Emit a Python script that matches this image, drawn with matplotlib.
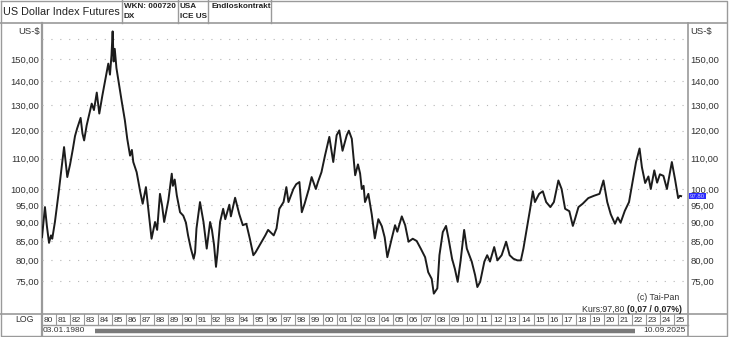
'''
US Dollar Index Futures - long term chart (Tai-Pan style)
'''
import matplotlib
matplotlib.use('Agg')
import matplotlib.pyplot as plt
from matplotlib.ticker import NullLocator

plt.rcParams['font.family'] = ['Liberation Sans', 'DejaVu Sans']

# values (year as decimal, index level)
years = [
    1980.00, 1980.10, 1980.21, 1980.35, 1980.50, 1980.64, 1980.73, 1980.92,
    1981.16, 1981.35, 1981.57, 1981.70, 1981.80, 1982.00, 1982.20, 1982.35,
    1982.50, 1982.75, 1982.88, 1983.00, 1983.18, 1983.35, 1983.54, 1983.70,
    1983.90, 1984.08, 1984.30, 1984.50, 1984.72, 1984.84, 1984.95, 1985.03,
    1985.10, 1985.18, 1985.30, 1985.40, 1985.50, 1985.68, 1985.90, 1986.07,
    1986.27, 1986.40, 1986.50, 1986.74, 1987.00, 1987.17, 1987.40, 1987.57,
    1987.70, 1987.80, 1988.05, 1988.20, 1988.40, 1988.55, 1988.70, 1989.00,
    1989.24, 1989.32, 1989.45, 1989.60, 1989.83, 1990.06, 1990.25, 1990.40,
    1990.60, 1990.80, 1990.90, 1991.00, 1991.25, 1991.50, 1991.73, 1991.97,
    1992.10, 1992.25, 1992.39, 1992.50, 1992.68, 1992.90, 1993.05, 1993.34,
    1993.45, 1993.75, 1994.05, 1994.30, 1994.55, 1994.80, 1995.05, 1995.20,
    1995.50, 1995.90, 1996.10, 1996.50, 1996.70, 1996.90, 1997.20, 1997.40,
    1997.55, 1997.90, 1998.10, 1998.33, 1998.50, 1998.70, 1999.00, 1999.20,
    1999.50, 1999.65, 1999.90, 2000.15, 2000.46, 2000.74, 2000.98, 2001.17,
    2001.40, 2001.70, 2001.85, 2002.06, 2002.30, 2002.50, 2002.65, 2002.77,
    2002.90, 2003.00, 2003.24, 2003.48, 2003.70, 2003.95, 2004.20, 2004.40,
    2004.59, 2004.90, 2005.14, 2005.30, 2005.62, 2005.86, 2006.10, 2006.40,
    2006.68, 2006.97, 2007.28, 2007.50, 2007.75, 2007.90, 2008.15, 2008.30,
    2008.54, 2008.77, 2008.95, 2009.20, 2009.40, 2009.60, 2009.80, 2010.06,
    2010.25, 2010.60, 2010.84, 2011.00, 2011.20, 2011.50, 2011.70, 2011.90,
    2012.20, 2012.43, 2012.73, 2013.05, 2013.30, 2013.57, 2013.85, 2014.10,
    2014.28, 2014.52, 2014.76, 2014.95, 2015.10, 2015.40, 2015.66, 2015.90,
    2016.20, 2016.45, 2016.77, 2017.00, 2017.25, 2017.55, 2017.80, 2017.95,
    2018.20, 2018.50, 2018.90, 2019.30, 2019.70, 2019.98, 2020.25, 2020.50,
    2020.80, 2021.00, 2021.20, 2021.50, 2021.80, 2022.07, 2022.30, 2022.55,
    2022.72, 2022.95, 2023.18, 2023.35, 2023.60, 2023.80, 2024.00, 2024.25,
    2024.50, 2024.85, 2025.08, 2025.30, 2025.42, 2025.51,
]
prices = [
    86.0, 90.0, 94.5, 89.0, 84.5, 86.5, 85.6, 90.2,
    98.0, 105.0, 114.0, 108.0, 103.8, 108.0, 113.4, 118.0,
    120.8, 124.9, 119.0, 116.4, 122.0, 126.0, 130.6, 128.0,
    135.2, 126.6, 134.0, 140.5, 148.0, 143.0, 152.0, 163.7,
    149.0, 155.0, 146.0, 142.0, 138.2, 131.4, 124.0, 117.0,
    111.0, 113.0, 108.8, 105.4, 99.0, 95.5, 100.6, 94.0,
    89.0, 85.6, 90.2, 88.0, 98.5, 95.0, 90.2, 96.6,
    104.9, 101.0, 103.0, 98.0, 93.0, 92.0, 90.0, 86.5,
    83.0, 80.4, 82.0, 88.4, 96.0, 90.2, 83.0, 90.2,
    88.0, 84.0, 78.4, 82.0, 90.2, 94.0, 91.0, 95.2,
    91.8, 97.3, 92.4, 89.3, 89.7, 85.6, 81.3, 82.0,
    83.9, 86.5, 88.0, 86.5, 88.4, 94.0, 96.0, 100.6,
    96.0, 100.0, 101.5, 102.2, 93.0, 95.5, 100.0, 103.8,
    100.0, 102.2, 105.4, 111.0, 117.7, 108.8, 118.3, 120.1,
    112.7, 118.3, 120.0, 117.0, 104.4, 108.0, 105.0, 100.0,
    101.0, 96.0, 98.5, 92.4, 85.7, 91.0, 89.0, 86.0,
    80.8, 85.6, 89.3, 87.5, 91.8, 89.3, 84.8, 85.6,
    85.0, 83.0, 80.8, 77.1, 75.5, 72.1, 73.3, 81.3,
    87.4, 89.1, 85.6, 80.4, 77.9, 74.8, 79.7, 88.0,
    83.0, 79.7, 76.4, 73.6, 74.8, 79.7, 81.3, 79.7,
    83.4, 80.0, 81.3, 84.8, 81.3, 80.4, 80.0, 80.0,
    83.0, 88.4, 94.0, 99.3, 96.0, 98.5, 99.3, 96.0,
    94.5, 96.0, 102.7, 100.0, 94.0, 93.3, 89.1, 91.0,
    94.5, 95.5, 97.2, 97.9, 98.5, 102.7, 96.0, 92.4,
    89.7, 91.5, 90.0, 93.4, 96.0, 102.7, 108.8, 113.5,
    107.0, 101.9, 104.0, 100.0, 106.0, 102.0, 104.7, 104.2,
    100.0, 108.8, 103.0, 97.2, 97.9, 97.8,
]

tick_values = [75, 80, 85, 90, 95, 100, 110, 120, 130, 140, 150]
tick_labels = ['75,00', '80,00', '85,00', '90,00', '95,00', '100,00',
               '110,00', '120,00', '130,00', '140,00', '150,00']
grid_values = tick_values + [160]
year_labels = ['%02d' % (y % 100) for y in range(1980, 2026)]

W, H = 730, 337
frame = '#9a9a9a'
txt = '#333333'

fig = plt.figure(figsize=(W / 100, H / 100), dpi=100)

# background axes in pixel coords for the frame / table parts
bg = fig.add_axes([0, 0, 1, 1])
bg.set_xlim(0, W)
bg.set_ylim(H, 0)
bg.axis('off')

# outer frame and header
bg.plot([0.5, 727, 727, 0.5, 0.5], [0.5, 0.5, 336, 336, 0.5], color=frame, lw=1)
bg.plot([0, 727], [22.5, 22.5], color=frame, lw=1.2)
for xs in [121.7, 177.7, 208.3, 270.7]:
    bg.plot([xs, xs], [0, 22.5], color=frame, lw=1)
bg.text(3, 12, 'US Dollar Index Futures', fontsize=7.8, color='#222', va='center')
bg.text(124, 7, 'WKN: 000720', fontsize=5.9, weight='bold', color='#222', va='center')
bg.text(124, 17, 'DX', fontsize=5.9, weight='bold', color='#222', va='center')
bg.text(180, 7, 'USA', fontsize=5.9, weight='bold', color='#222', va='center')
bg.text(180, 17, 'ICE US', fontsize=5.9, weight='bold', color='#222', va='center')
bg.text(211, 7, 'Endloskontrakt', fontsize=5.9, weight='bold', color='#222', va='center')

# side columns and bottom rows
bg.plot([42, 42], [22.5, 336], color=frame, lw=1.6)
bg.plot([688, 688], [22.5, 336], color=frame, lw=1.2)
bg.plot([0, 727], [314, 314], color=frame, lw=1.2)
bg.plot([42, 688], [325, 325], color=frame, lw=1)
bg.text(25, 320, 'LOG', fontsize=6.3, color=txt, ha='center', va='center')

# year boxes
year_w = (688 - 42) / 46.0
for i, lab in enumerate(year_labels):
    x0 = 42 + i * year_w
    if i > 0:
        bg.plot([x0, x0], [314, 325], color=frame, lw=0.8)
    bg.text(x0 + 1.5, 320, lab, fontsize=6, color=txt, va='center')

# date row with scroll bar
bg.text(43, 331, '03.01.1980', fontsize=6, color=txt, va='center')
bg.plot([95, 635], [330.8, 330.8], color='#7a7a7a', lw=3.2, solid_capstyle='butt')
bg.text(686, 331, '10.09.2025', fontsize=6, color=txt, va='center', ha='right')

# main price chart
ax = fig.add_axes([42 / W, 1 - 314 / H, (688 - 42) / W, (314 - 22.7) / H])
ax.patch.set_alpha(0)
ax.set_yscale('log')
ax.set_xlim(1980.0, 2026.0)
ax.set_ylim(67.65, 168.2)
for s in ax.spines.values():
    s.set_visible(False)

for g in grid_values:
    ax.axhline(g, color='#b5b5b5', lw=0.8, linestyle=(0, (1, 7)), zorder=1)

ax.plot(years, prices, color='#1c1c1c', lw=1.4, zorder=3)

ax.yaxis.set_minor_locator(NullLocator())
ax.set_yticks(tick_values)
ax.set_yticklabels(tick_labels)
ax.set_xticks([])
ax.tick_params(axis='y', length=0, labelsize=6.8, labelcolor=txt,
               labelleft=True, labelright=True, pad=2)

# currency label top left / right
ax.text(-0.004, 0.97, 'US-$', transform=ax.transAxes, fontsize=6.8, color=txt,
        ha='right', va='center')
ax.text(1.004, 0.97, 'US-$', transform=ax.transAxes, fontsize=6.8, color=txt,
        ha='left', va='center')

# last price marker on right axis
ax.text(1.003, prices[-1], '97,80', transform=ax.get_yaxis_transform(),
        fontsize=4.3, color='#c8c8ff', ha='left', va='center',
        bbox=dict(boxstyle='square,pad=0.1', fc='#2a2aff', ec='none'))

# copyright and last quote
bg.text(679, 297, '(c) Tai-Pan', fontsize=6.3, color=txt, ha='right', va='center')
bg.text(627, 309.5, 'Kurs:97,80 ', fontsize=6.3, color=txt, ha='right', va='center')
bg.text(627, 309.5, '(0,07 / 0,07%)', fontsize=6.3, color='#222', weight='bold',
        ha='left', va='center')

fig.savefig('out.png', dpi=100)
